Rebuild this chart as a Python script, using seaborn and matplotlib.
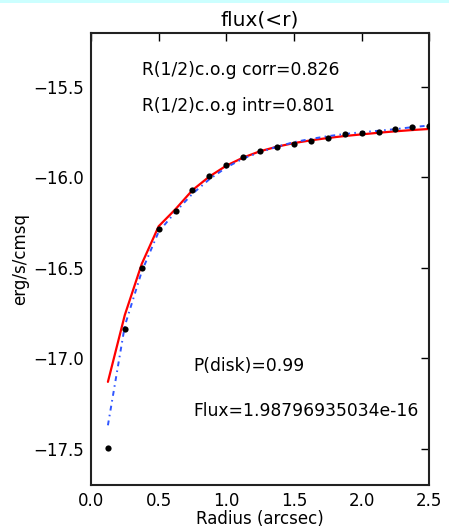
import numpy as np
import pandas as pd
import matplotlib
matplotlib.use("Agg")
import matplotlib.pyplot as plt
import seaborn as sns

radius = [0.125, 0.25, 0.375, 0.5, 0.625, 0.75, 0.875, 1.0, 1.125, 1.25,
          1.375, 1.5, 1.625, 1.75, 1.875, 2.0, 2.125, 2.25, 2.375, 2.5]
flux_obs = [-17.493, -16.84, -16.503, -16.283, -16.188, -16.072, -15.993, -15.932,
            -15.886, -15.855, -15.833, -15.814, -15.799, -15.781, -15.759, -15.753,
            -15.750, -15.735, -15.722, -15.716]
flux_corr = [-17.13, -16.76, -16.478, -16.27, -16.175, -16.07, -15.995, -15.935,
             -15.89, -15.855, -15.83, -15.81, -15.795, -15.782, -15.771, -15.762,
             -15.753, -15.745, -15.738, -15.732]
flux_intr = [-17.37, -16.82, -16.52, -16.30, -16.19, -16.09, -16.01, -15.945,
             -15.895, -15.86, -15.83, -15.805, -15.787, -15.772, -15.76, -15.75,
             -15.742, -15.733, -15.722, -15.713]

title = "flux(<r)"
xlabel = "Radius (arcsec)"
ylabel = "erg/s/cmsq"
notes = ["R(1/2)c.o.g corr=0.826", "R(1/2)c.o.g intr=0.801",
         "P(disk)=0.99", "Flux=1.98796935034e-16"]

df = pd.DataFrame({"r": radius, "obs": flux_obs, "corr": flux_corr, "intr": flux_intr})

sns.set_style("white")
plt.rcParams['font.family'] = ['DejaVu Sans']
plt.rcParams['axes.unicode_minus'] = True
plt.rcParams['text.color'] = 'black'
plt.rcParams['axes.labelcolor'] = 'black'

fig = plt.figure(figsize=(4.49, 5.31), dpi=100)
ax = fig.add_axes([91/449, 1-485/531, (429.3-91)/449, (485-32.7)/531])

sns.lineplot(data=df, x="r", y="corr", ax=ax, color="red", lw=1.6, sort=False)
sns.lineplot(data=df, x="r", y="intr", ax=ax, color="#2f55ff", lw=1.4, sort=False,
             linestyle=(0, (2.5, 2.2, 0.8, 2.2)))
sns.scatterplot(data=df, x="r", y="obs", ax=ax, color="black", s=20, edgecolor="black",
                linewidth=0, zorder=3)

ax.set_xlim(0, 2.5)
ax.set_ylim(-17.7, -15.2)
ax.set_xticks([0.0, 0.5, 1.0, 1.5, 2.0, 2.5])
ax.set_yticks([-17.5, -17.0, -16.5, -16.0, -15.5])
ax.tick_params(direction="in", length=6, width=1, top=True, right=True,
               labelsize=12, colors="black", pad=5)
for s in ax.spines.values():
    s.set_linewidth(1.5)
    s.set_color("#222222")

ax.set_title(title, fontsize=14.5, pad=5, color="black")
ax.set_xlabel(xlabel, fontsize=12, labelpad=0)
ax.set_ylabel(ylabel, fontsize=12, labelpad=3)

ax.text(0.375, -15.406, notes[0], fontsize=12.3, va="center", ha="left")
ax.text(0.375, -15.605, notes[1], fontsize=12.3, va="center", ha="left")
ax.text(0.757, -17.04, notes[2], fontsize=12.3, va="center", ha="left")
ax.text(0.757, -17.29, notes[3], fontsize=12.3, va="center", ha="left")

fig.add_artist(plt.Rectangle((0, 1-3/531), 1, 3/531, transform=fig.transFigure,
                             color="#ccffff", lw=0))

fig.savefig("out.png", dpi=100)
